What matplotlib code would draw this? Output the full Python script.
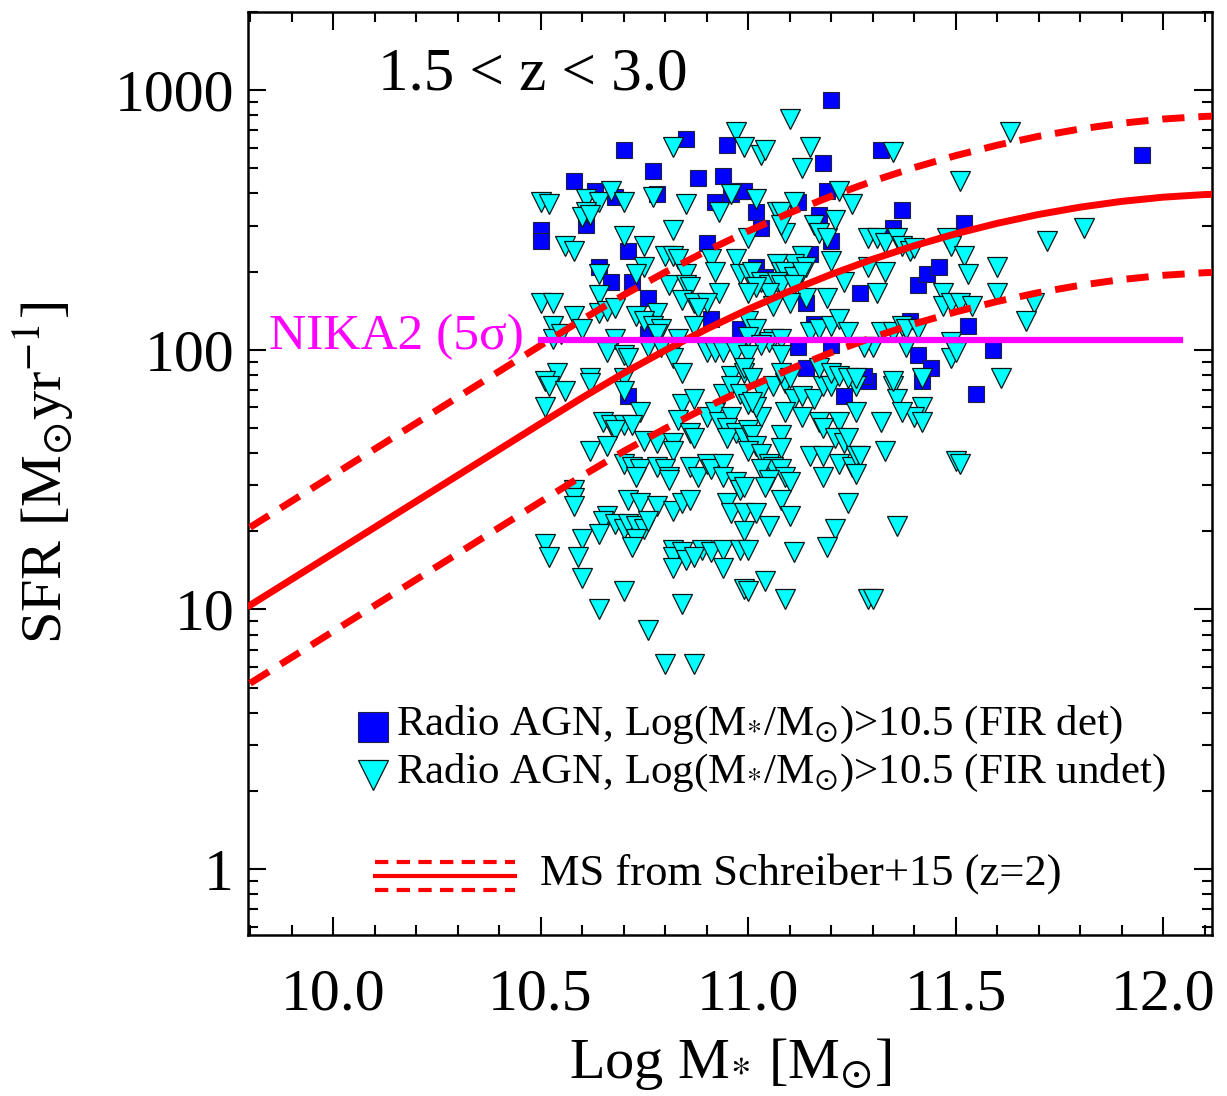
import numpy as np
import matplotlib
matplotlib.use('Agg')
import matplotlib.pyplot as plt
from matplotlib.ticker import FixedLocator, FixedFormatter, LogLocator, NullFormatter, MultipleLocator, FormatStrFormatter

plt.rcParams['font.family'] = ['Liberation Serif', 'DejaVu Serif']
plt.rcParams['mathtext.fontset'] = 'stix'

# radio AGN detected in FIR (blue squares): log stellar mass, log SFR
det_logm = [10.70, 10.85, 10.95, 10.77, 10.58, 10.88, 10.94, 10.63, 10.68, 10.78,
            10.92, 10.96, 10.98, 10.50, 10.50, 10.61, 10.90, 10.71, 10.64, 10.67,
            10.72, 10.76, 10.91, 10.98, 10.76, 10.71, 10.95, 11.23, 11.29, 11.42,
            11.20, 11.18, 11.32, 10.99, 11.02, 11.03, 11.12, 11.19, 11.17, 11.20,
            11.37, 11.35, 11.15, 11.02, 11.04, 11.14, 11.27, 11.41, 11.43, 11.46,
            11.16, 11.20, 11.12, 11.39, 11.41, 11.44, 11.14, 11.28, 11.95, 11.52,
            11.53, 11.59, 11.55]
det_logsfr = [2.77, 2.81, 2.79, 2.69, 2.65, 2.66, 2.67, 2.61, 2.59, 2.60,
              2.57, 2.60, 2.61, 2.46, 2.42, 2.48, 2.41, 2.38, 2.32, 2.26,
              2.26, 2.20, 2.12, 2.08, 2.06, 1.82, 1.72, 1.82, 1.88, 1.88,
              2.96, 2.72, 2.77, 2.61, 2.53, 2.47, 2.57, 2.61, 2.52, 2.42,
              2.54, 2.47, 2.37, 2.32, 2.28, 2.18, 2.22, 2.25, 2.29, 2.32,
              2.10, 2.02, 2.01, 2.11, 1.98, 1.93, 1.93, 1.90, 2.75, 2.49,
              2.09, 2.00, 1.83]

# radio AGN undetected in FIR (cyan triangles, upper limits)
und_logm = [
    10.97, 10.82, 10.99, 10.50, 10.52, 10.61, 10.64, 10.67, 10.70, 10.77,
    10.85, 10.96, 10.93, 10.61, 10.60, 10.62, 10.70, 10.82, 10.56, 10.58,
    10.75, 10.80, 10.82, 10.83, 10.91, 10.97, 10.75, 10.64, 10.73, 10.92,
    10.98, 10.81, 10.85, 10.85, 10.86, 10.93, 10.50, 10.53, 10.64, 10.84,
    10.87, 10.90, 10.58, 10.64, 10.66, 10.68, 10.73, 10.78, 10.88, 10.53,
    10.60, 10.75, 10.77, 10.79, 10.87, 10.53, 10.55, 10.68, 10.78, 10.83,
    10.66, 10.70, 10.71, 10.76, 10.79, 10.82, 10.90, 10.92, 10.94, 10.97,
    10.54, 10.51, 10.62, 10.70, 10.84, 10.96, 10.99,
    10.52, 10.56, 10.62, 10.51, 10.70, 10.74, 10.65, 10.67, 10.70, 10.72,
    10.68, 10.62, 10.66, 10.75, 10.78, 10.82, 10.82, 10.84, 10.87, 10.83,
    10.86, 10.87, 10.90, 10.92, 10.93, 10.94, 10.96, 10.98, 10.96, 10.95,
    10.97, 10.95, 10.99, 10.70, 10.72, 10.74, 10.73, 10.78, 10.80, 10.81,
    10.81, 10.86, 10.88, 10.90, 10.91, 10.94, 10.94, 10.97, 10.98, 10.58,
    10.58, 10.58, 10.71, 10.74, 10.78, 10.82, 10.84, 10.86, 10.95, 10.96,
    10.66, 10.65, 10.68, 10.70, 10.71, 10.73, 10.75, 10.76, 10.64, 10.73,
    10.72, 10.51, 10.52, 10.60, 10.59, 10.60, 10.82, 10.82, 10.84, 10.82,
    10.85, 10.89, 10.87, 10.91, 10.94, 10.94, 10.98, 10.70, 10.99, 10.64,
    10.84, 10.76, 10.80, 10.87,
    11.03, 11.06, 11.09, 11.11, 11.13, 11.16, 11.18, 11.20, 11.26, 11.35,
    11.36, 11.42, 11.40, 11.42, 11.37, 11.32, 11.26, 11.22, 11.17, 11.18,
    11.09, 11.13, 11.03, 11.02, 11.00, 11.01, 11.08, 11.08, 11.00, 11.01,
    11.02, 11.00, 11.03, 11.21, 11.23, 11.24, 11.15, 11.18, 11.18, 11.22,
    11.25, 11.26, 11.27, 11.26, 11.33, 11.50, 11.05, 11.06, 11.03, 11.08,
    11.09, 11.10, 11.05, 11.04, 10.99, 11.08, 11.24, 10.99, 11.02, 11.05,
    11.10, 10.99, 11.21, 11.36, 11.00, 11.11, 11.19, 11.04, 11.00, 11.09,
    11.29, 11.30,
    11.10, 11.03, 11.04, 11.15, 11.13, 11.35, 11.02, 11.00, 11.07, 11.08,
    11.11, 11.09, 11.08, 11.22, 11.25, 11.16, 11.17, 11.19, 11.21, 11.29,
    11.31, 11.33, 11.36, 11.37, 11.39, 11.40, 11.48, 11.49, 11.13, 11.11,
    11.14, 11.20, 11.29, 11.33, 11.07, 11.08, 11.09, 11.11, 11.13, 11.00,
    11.01, 11.03, 11.05, 11.07, 11.08, 11.11, 11.05, 11.02, 11.00, 11.14,
    11.10, 11.06, 11.19, 11.23, 11.31, 11.47, 11.47, 11.49, 11.00, 11.02,
    11.00, 11.15, 11.17, 11.20, 11.22, 11.24, 11.06, 11.05, 11.08, 11.08,
    11.03, 11.32, 11.35, 11.37, 11.38, 11.41, 11.30, 11.28, 11.38, 11.49,
    11.49, 11.00, 10.99, 11.01, 11.08, 11.10, 11.17, 11.20, 11.22, 11.24,
    11.26, 11.35, 11.42,
    11.63, 11.51, 11.72, 11.81, 11.52, 11.53, 11.60, 11.60, 11.51, 11.54,
    11.69, 11.67, 11.61, 11.50, 11.51]
und_logsfr = [
    2.84, 2.78, 2.78, 2.57, 2.56, 2.58, 2.57, 2.61, 2.57, 2.59,
    2.56, 2.60, 2.53, 2.53, 2.51, 2.52, 2.44, 2.46, 2.40, 2.38,
    2.40, 2.36, 2.36, 2.35, 2.35, 2.35, 2.32, 2.29, 2.29, 2.30,
    2.29, 2.25, 2.29, 2.25, 2.24, 2.22, 2.18, 2.18, 2.21, 2.19,
    2.18, 2.18, 2.13, 2.14, 2.15, 2.16, 2.13, 2.14, 2.16, 2.09,
    2.08, 2.11, 2.09, 2.08, 2.09, 2.04, 2.06, 2.04, 2.06, 2.04,
    1.99, 1.98, 1.97, 2.01, 2.01, 1.97, 1.99, 1.99, 1.99, 1.99,
    1.91, 1.88, 1.89, 1.89, 1.91, 1.90, 1.91,
    1.86, 1.84, 1.87, 1.78, 1.84, 1.76, 1.72, 1.71, 1.71, 1.71,
    1.69, 1.61, 1.63, 1.65, 1.64, 1.64, 1.61, 1.79, 1.81, 1.73,
    1.68, 1.66, 1.74, 1.76, 1.72, 1.83, 1.86, 1.83, 1.74, 1.70,
    1.68, 1.66, 1.66, 1.56, 1.55, 1.54, 1.51, 1.55, 1.54, 1.51,
    1.50, 1.55, 1.51, 1.56, 1.54, 1.56, 1.51, 1.49, 1.46, 1.46,
    1.43, 1.40, 1.42, 1.41, 1.40, 1.38, 1.41, 1.42, 1.41, 1.37,
    1.36, 1.34, 1.33, 1.31, 1.33, 1.32, 1.31, 1.34, 1.29, 1.27,
    1.24, 1.25, 1.20, 1.27, 1.20, 1.12, 1.23, 1.20, 1.22, 1.16,
    1.19, 1.23, 1.20, 1.22, 1.23, 1.16, 1.23, 1.07, 1.08, 1.00,
    1.02, 0.92, 0.79, 0.79,
    1.84, 1.86, 1.87, 1.81, 1.82, 1.81, 1.86, 1.86, 1.86, 1.86,
    1.81, 1.78, 1.74, 1.72, 1.76, 1.72, 1.76, 1.72, 1.72, 1.70,
    1.76, 1.74, 1.74, 1.78, 1.79, 1.80, 1.67, 1.62, 1.69, 1.67,
    1.63, 1.61, 1.60, 1.66, 1.64, 1.66, 1.59, 1.59, 1.51, 1.56,
    1.55, 1.59, 1.59, 1.52, 1.61, 1.57, 1.56, 1.55, 1.54, 1.54,
    1.51, 1.49, 1.50, 1.47, 1.47, 1.42, 1.41, 1.37, 1.37, 1.32,
    1.36, 1.30, 1.31, 1.32, 1.23, 1.22, 1.24, 1.11, 1.07, 1.04,
    1.04, 1.04,
    2.89, 2.75, 2.77, 2.78, 2.70, 2.76, 2.58, 2.43, 2.53, 2.53,
    2.57, 2.45, 2.48, 2.61, 2.56, 2.48, 2.45, 2.43, 2.50, 2.43,
    2.43, 2.41, 2.43, 2.40, 2.38, 2.39, 2.43, 2.40, 2.36, 2.33,
    2.32, 2.34, 2.32, 2.30, 2.33, 2.30, 2.30, 2.28, 2.30, 2.29,
    2.30, 2.26, 2.25, 2.26, 2.25, 2.25, 2.22, 2.24, 2.22, 2.20,
    2.18, 2.17, 2.20, 2.26, 2.22, 2.22, 2.17, 2.18, 2.11, 2.08,
    2.05, 2.07, 2.08, 2.09, 2.12, 2.07, 2.04, 2.03, 2.04, 1.98,
    2.02, 2.07, 2.07, 2.09, 2.08, 2.08, 2.01, 2.01, 2.01, 2.03,
    1.97, 1.98, 1.93, 1.89, 1.91, 1.89, 1.93, 1.91, 1.90, 1.89,
    1.89, 1.88, 1.89,
    2.84, 2.65, 2.42, 2.47, 2.36, 2.29, 2.32, 2.22, 2.18, 2.17,
    2.18, 2.11, 1.89, 1.99, 1.56]

# main sequence of Schreiber+15 at z=2 (solid) and its x2 / x0.5 envelope (dashed)
ms_logm = [9.8, 9.9, 10.0, 10.1, 10.2, 10.3, 10.4, 10.5, 10.6, 10.7,
           10.8, 10.9, 11.0, 11.1, 11.2, 11.3, 11.4, 11.5, 11.6, 11.7,
           11.8, 11.9, 12.0, 12.1, 12.2]
ms_sfr = [10.37, 13.05, 16.43, 20.68, 26.04, 32.78, 41.27, 51.95, 65.3, 81.2,
          99.4, 120.1, 143.1, 168.2, 195.0, 223.0, 251.4, 279.6, 306.7, 331.9,
          354.1, 372.7, 386.9, 396.0, 399.9]
ms_sfr_hi = [20.7, 26.1, 32.9, 41.4, 52.1, 65.6, 82.5, 103.9, 130.6, 162.4,
             198.8, 240.2, 286.2, 336.4, 390.0, 446.0, 502.8, 559.2, 613.4, 663.8,
             708.2, 745.4, 773.8, 792.0, 799.8]
ms_sfr_lo = [5.19, 6.53, 8.22, 10.34, 13.02, 16.39, 20.64, 25.98, 32.65, 40.6,
             49.7, 60.05, 71.55, 84.1, 97.5, 111.5, 125.7, 139.8, 153.4, 166.0,
             177.1, 186.4, 193.5, 198.0, 200.0]

# NIKA2 5 sigma limit
nika_logm = [10.5, 12.04]
nika_sfr = [109, 109]

fig = plt.figure(figsize=(12.27, 10.96), dpi=100)
ax = fig.add_axes([0.2021, 0.1469, 0.7857, 0.8422])

ax.plot(det_logm, 10**np.array(det_logsfr), 's', ms=11.5, mfc='#0000ff', mec='#202040', mew=0.8, zorder=3)
ax.plot(und_logm, 10**np.array(und_logsfr), 'v', ms=14.5, mfc='#00ffff', mec='#0a1515', mew=0.9, zorder=4)

dash = (0, (3.2, 2.0))
ax.plot(ms_logm, ms_sfr, '-', color='red', lw=5, zorder=5)
ax.plot(ms_logm, ms_sfr_hi, color='red', lw=5, ls=dash, zorder=5)
ax.plot(ms_logm, ms_sfr_lo, color='red', lw=5, ls=dash, zorder=5)
ax.plot(nika_logm, nika_sfr, '-', color='#ff00ff', lw=4.5, zorder=6)

ax.set_yscale('log')
ax.set_xlim(9.795, 12.118)
ax.set_ylim(0.557, 2000)

ax.yaxis.set_major_locator(FixedLocator([1, 10, 100, 1000]))
ax.yaxis.set_major_formatter(FixedFormatter(['1', '10', '100', '1000']))
ax.yaxis.set_minor_locator(LogLocator(base=10, subs=np.arange(2, 10)))
ax.yaxis.set_minor_formatter(NullFormatter())
ax.xaxis.set_major_locator(MultipleLocator(0.5))
ax.xaxis.set_minor_locator(MultipleLocator(0.1))
ax.xaxis.set_major_formatter(FormatStrFormatter('%.1f'))

ax.tick_params(which='both', direction='in', top=True, right=True, width=1.5)
ax.tick_params(which='major', length=13, labelsize=43)
ax.tick_params(which='minor', length=7)
ax.tick_params(axis='x', which='major', pad=24)
ax.tick_params(axis='y', which='major', pad=10)
for s in ax.spines.values():
    s.set_linewidth(1.8)

ax.set_xlabel(r'Log M$_{*}$ [M$_{\odot}$]', fontsize=42, labelpad=10)
ax.set_ylabel(r'SFR [M$_{\odot}$yr$^{-1}$]', fontsize=42, labelpad=28)

ax.text(0.135, 0.932, '1.5 < z < 3.0', transform=ax.transAxes, fontsize=44, va='center')
ax.text(0.022, 0.648, r'NIKA2 (5σ)', transform=ax.transAxes, fontsize=37, va='center', color='#ff00ff')

# legend drawn by hand
ax.plot([0.130], [0.225], 's', ms=21, mfc='#0000ff', mec='#202040', mew=0.8, transform=ax.transAxes, clip_on=False)
ax.text(0.1535, 0.227, r'Radio AGN, Log(M$_{*}$/M$_{\odot}$)>10.5 (FIR det)', transform=ax.transAxes, fontsize=31, va='center')
ax.plot([0.130], [0.173], 'v', ms=22, mfc='#00ffff', mec='#0a1515', mew=0.9, transform=ax.transAxes, clip_on=False)
ax.text(0.1535, 0.175, r'Radio AGN, Log(M$_{*}$/M$_{\odot}$)>10.5 (FIR undet)', transform=ax.transAxes, fontsize=31, va='center')
ax.plot([0.132, 0.277], [0.079, 0.079], color='red', lw=3, ls=(0, (3.2, 2.0)), transform=ax.transAxes)
ax.plot([0.132, 0.277], [0.064, 0.064], color='red', lw=3, transform=ax.transAxes)
ax.plot([0.132, 0.277], [0.049, 0.049], color='red', lw=3, ls=(0, (3.2, 2.0)), transform=ax.transAxes)
ax.text(0.303, 0.067, 'MS from Schreiber+15 (z=2)', transform=ax.transAxes, fontsize=32, va='center')

plt.savefig('out.png', dpi=100)
plt.close()
